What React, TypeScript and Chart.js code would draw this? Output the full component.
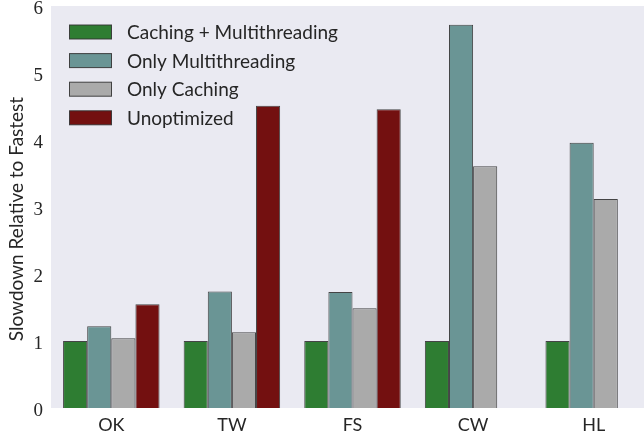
import React, { useEffect, useRef } from "react";
import { Chart, registerables } from "chart.js";

Chart.register(...registerables);

const categories = ["OK", "TW", "FS", "CW", "HL"];
const seriesNames = ["Caching + Multithreading", "Only Multithreading", "Only Caching", "Unoptimized"];
const cachingMulti = [1.0, 1.0, 1.0, 1.0, 1.0];
const onlyMulti = [1.22, 1.74, 1.73, 5.72, 3.96];
const onlyCaching = [1.04, 1.13, 1.49, 3.61, 3.12];
const unoptimized: (number | null)[] = [1.55, 4.51, 4.46, null, null];
const yTicks = [0, 1, 2, 3, 4, 5, 6];
const yTitle = "Slowdown Relative to Fastest";
const colors = ["#2e7d32", "#6a9595", "#aaaaaa", "#731010"];
const edge = "rgba(50,50,50,0.9)";

const bgPlugin = {
  id: "bgArea",
  beforeDraw(chart: any) {
    const { ctx, chartArea } = chart;
    ctx.save();
    ctx.fillStyle = "#eaeaf2";
    ctx.fillRect(chartArea.left, chartArea.top, chartArea.right - chartArea.left, chartArea.bottom - chartArea.top);
    ctx.restore();
  },
};

const yTitlePlugin = {
  id: "yTitle",
  afterDraw(chart: any) {
    const { ctx, chartArea } = chart;
    ctx.save();
    ctx.translate(17, (chartArea.top + chartArea.bottom) / 2 + 12);
    ctx.rotate(-Math.PI / 2);
    ctx.fillStyle = "#262626";
    ctx.font = "19px Lato";
    ctx.textAlign = "center";
    ctx.textBaseline = "middle";
    ctx.fillText(yTitle, 0, 0);
    ctx.restore();
  },
};

const legendPlugin = {
  id: "insideLegend",
  afterDatasetsDraw(chart: any) {
    const { ctx } = chart;
    ctx.save();
    chart.data.datasets.forEach((ds: any, i: number) => {
      const cy = 32 + i * 28.6;
      ctx.fillStyle = ds.backgroundColor;
      ctx.fillRect(69.5, cy - 7, 42, 14);
      ctx.strokeStyle = edge;
      ctx.lineWidth = 1;
      ctx.strokeRect(69.5, cy - 7, 42, 14);
      ctx.fillStyle = "#262626";
      ctx.font = "19px Lato";
      ctx.textBaseline = "middle";
      ctx.textAlign = "left";
      ctx.fillText(ds.label, 127, cy + 1);
    });
    ctx.restore();
  },
};

export default function App() {
  const ref = useRef<HTMLCanvasElement>(null);
  useEffect(() => {
    if (!ref.current) return;
    const series = [cachingMulti, onlyMulti, onlyCaching, unoptimized];
    const chart = new Chart(ref.current, {
      type: "bar",
      data: {
        labels: categories,
        datasets: series.map((d, i) => ({
          label: seriesNames[i],
          data: d as any,
          backgroundColor: colors[i],
          borderColor: edge,
          borderWidth: 1,
          categoryPercentage: 0.8,
          barPercentage: 1.0,
        })),
      },
      options: {
        responsive: false,
        animation: false,
        layout: { padding: { top: 6, right: 6, left: 0, bottom: 0 } },
        plugins: { legend: { display: false }, tooltip: { enabled: false } },
        scales: {
          x: {
            grid: { display: false, drawTicks: false },
            border: { display: false },
            ticks: { color: "#262626", font: { family: "Lato", size: 18 }, padding: 6 },
            afterFit: (s: any) => { s.height = 26; s.paddingLeft = 0; s.paddingRight = 0; },
          },
          y: {
            min: 0,
            max: 6,
            afterBuildTicks: (s: any) => { s.ticks = yTicks.map((v) => ({ value: v })); },
            grid: { display: false, drawTicks: false },
            border: { display: false },
            ticks: { color: "#262626", font: { family: "Liberation Serif", size: 19 }, padding: 8, labelOffset: 3 },
            afterFit: (s: any) => { s.width = 51; s.paddingTop = 0; s.paddingBottom = 0; },
          },
        },
      },
      plugins: [bgPlugin, legendPlugin, yTitlePlugin],
    });
    return () => chart.destroy();
  }, []);
  return (
    <div style={{ position: "fixed", left: 0, top: 0, width: 644, height: 434, overflow: "hidden", background: "#fff" }}>
      <canvas ref={ref} width={660} height={434} style={{ display: "block" }} />
    </div>
  );
}
